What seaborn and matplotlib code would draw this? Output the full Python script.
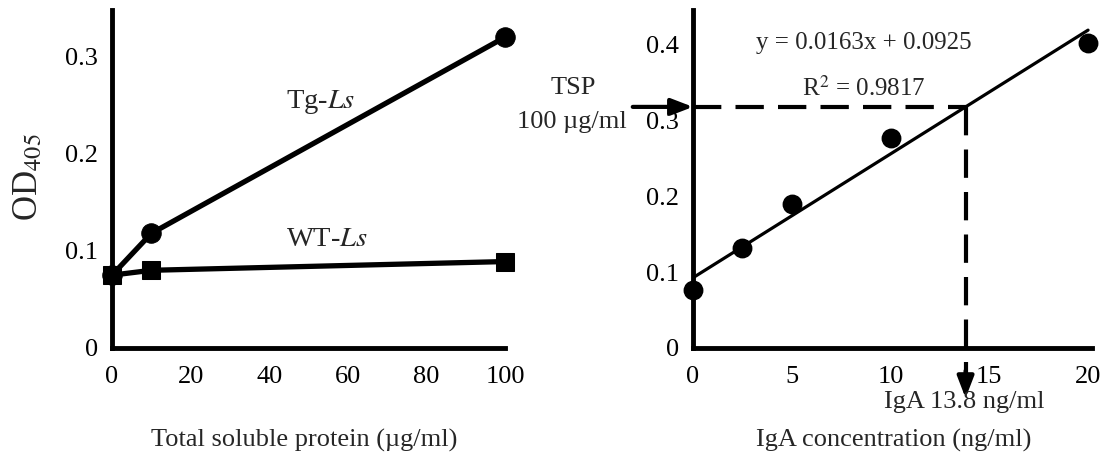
import numpy as np
import pandas as pd
import matplotlib
matplotlib.use("Agg")
import matplotlib.pyplot as plt
import seaborn as sns

# ---- data ----
tsp = [0, 10, 100]
tg_ls = [0.075, 0.118, 0.320]
wt_ls = [0.075, 0.080, 0.089]

iga_conc = [0, 2.5, 5, 10, 20]
iga_od = [0.076, 0.131, 0.189, 0.277, 0.402]
fit_slope = 0.0163
fit_intercept = 0.0925
fit_r2 = 0.9817
iga_estimate = 13.8

sns.set_style("white")
plt.rcParams['font.family'] = ['Liberation Serif', 'DejaVu Serif']
plt.rcParams['mathtext.fontset'] = 'stix'

W, H = 1108, 475
fig = plt.figure(figsize=(W / 100, H / 100), dpi=100)

def fx(px):
    return px / W

def fy(py):
    return 1 - py / H

ax1 = fig.add_axes([fx(112), fy(348), fx(505 - 112), (348 - 10) / H])
ax2 = fig.add_axes([fx(693), fy(348), fx(1092 - 693), (348 - 10) / H])

df_tg = pd.DataFrame({"x": tsp, "y": tg_ls})
df_wt = pd.DataFrame({"x": tsp, "y": wt_ls})
sns.lineplot(data=df_tg, x="x", y="y", ax=ax1, color="black",
             lw=3.8, marker="o", markersize=14, mec="black", clip_on=False)
sns.lineplot(data=df_wt, x="x", y="y", ax=ax1, color="black",
             lw=3.8, marker="s", markersize=13, mec="black", clip_on=False)
ax1.set_xlim(0, 100)
ax1.set_ylim(0, 0.348)
ax1.set_xticks([0, 20, 40, 60, 80, 100])
ax1.set_yticks([0, 0.1, 0.2, 0.3])
ax1.set_yticklabels(["0", "0.1", "0.2", "0.3"])
ax1.set_xlabel("")
ax1.set_ylabel("")

# right panel
df2 = pd.DataFrame({"x": iga_conc, "y": iga_od})
xfit = np.array([0, 20])
df_fit = pd.DataFrame({"x": xfit, "y": fit_slope * xfit + fit_intercept})
sns.lineplot(data=df_fit, x="x", y="y", ax=ax2, color="black", lw=2.3)
sns.scatterplot(data=df2, x="x", y="y", ax=ax2, color="black", s=175,
                edgecolor="black", clip_on=False, zorder=5)
ax2.set_xlim(0, 20.2)
ax2.set_ylim(0, 0.445)
ax2.set_xticks([0, 5, 10, 15, 20])
ax2.set_yticks([0, 0.1, 0.2, 0.3, 0.4])
ax2.set_yticklabels(["0", "0.1", "0.2", "0.3", "0.4"])
ax2.set_xlabel("")
ax2.set_ylabel("")

y_est = fit_slope * iga_estimate + fit_intercept
dash = (6.8, 3.4)
ax2.plot([0, iga_estimate], [y_est, y_est], color="black", lw=3,
         dashes=dash, clip_on=False)
ax2.plot([iga_estimate, iga_estimate], [y_est, -0.035], color="black", lw=3,
         dashes=dash, clip_on=False)
arrow = dict(arrowstyle="-|>,head_length=1.3,head_width=0.5",
             color="black", lw=3, shrinkA=0, shrinkB=0)
ax2.annotate("", xy=(0, y_est), xytext=(-3.05, y_est), annotation_clip=False,
             arrowprops=arrow)
ax2.annotate("", xy=(iga_estimate, -0.066), xytext=(iga_estimate, -0.03),
             annotation_clip=False, arrowprops=arrow)

for ax in (ax1, ax2):
    for side in ("top", "right"):
        ax.spines[side].set_visible(False)
    for side in ("left", "bottom"):
        ax.spines[side].set_linewidth(3.5)
        ax.spines[side].set_color("black")
    ax.tick_params(axis="both", direction="out", length=3, width=2,
                   colors="black", labelsize=19)
    ax.tick_params(axis="x", pad=10)
    ax.tick_params(axis="y", pad=7)
    ax.grid(False)

fig.text(fx(321), fy(102), r"Tg-$\mathit{Ls}$", fontsize=20.5, ha="center", va="center")
fig.text(fx(327), fy(240), r"WT-$\mathit{Ls}$", fontsize=20.5, ha="center", va="center")
fig.text(fx(864), fy(43), "y = 0.0163x + 0.0925", fontsize=18,
         ha="center", va="center")
fig.text(fx(864), fy(88), "R$^2$ = 0.9817", fontsize=18,
         ha="center", va="center")
fig.text(fx(573), fy(88), "TSP", fontsize=19, ha="center", va="center")
fig.text(fx(572), fy(122), "100 \u00b5g/ml", fontsize=19, ha="center", va="center")
fig.text(fx(964), fy(402), "IgA 13.8 ng/ml", fontsize=19, ha="center", va="center")
fig.text(fx(304), fy(440), "Total soluble protein (\u00b5g/ml)", fontsize=19,
         ha="center", va="center")
fig.text(fx(894), fy(440), "IgA concentration (ng/ml)", fontsize=19,
         ha="center", va="center")
fig.text(fx(29), fy(177), r"OD$_{405}$", fontsize=25, rotation=90,
         ha="center", va="center")

fig.savefig("out.png", dpi=100, facecolor="white")
